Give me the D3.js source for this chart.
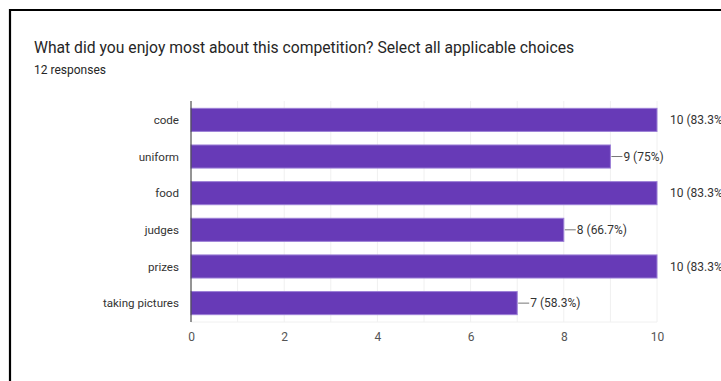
<!DOCTYPE html>
<html>
<head>
<meta charset="utf-8">
<script src="https://cdn.jsdelivr.net/npm/d3@7"></script>
<style>
	body { margin: 0; background: #fff; }
	text { font-family: Roboto, "Noto Sans", sans-serif; }
</style>
</head>
<body>
<div class="chart"></div>
<script>
var title = "What did you enjoy most about this competition? Select all applicable choices";
var subtitle = "12 responses";
var categories = ["code", "uniform", "food", "judges", "prizes", "taking pictures"];
var counts = [10, 9, 10, 8, 10, 7];
var percents = ["83.3%", "75%", "83.3%", "66.7%", "83.3%", "58.3%"];
var xTicks = [0, 2, 4, 6, 8, 10];
var gridTicks = [0, 1, 2, 3, 4, 5, 6, 7, 8, 9, 10];

var width = 721, height = 381;
var plot = {left: 191, right: 657, top: 101, bottom: 322};

var svg = d3.select(".chart").append("svg")
	.attr("width", width)
	.attr("height", height);

svg.append("rect")
	.attr("width", width)
	.attr("height", height)
	.attr("fill", "#fff");

//frame of the screenshot (only top and left edge visible)
svg.append("path")
	.attr("d", "M10," + height + "V10H" + width)
	.attr("fill", "none")
	.attr("stroke", "#000")
	.attr("stroke-width", 2.2);

svg.append("text")
	.attr("x", 34)
	.attr("y", 53)
	.attr("font-size", 15.7)
	.attr("fill", "#262626")
	.text(title);

svg.append("text")
	.attr("x", 34)
	.attr("y", 74)
	.attr("font-size", 12)
	.attr("fill", "#262626")
	.text(subtitle);

var x = d3.scaleLinear()
	.domain([0, 10])
	.range([plot.left, plot.right]);

var y = d3.scaleBand()
	.domain(categories)
	.range([plot.top, plot.bottom])
	.paddingInner(0.37)
	.paddingOuter(0.2);

//light grid
svg.append("g").selectAll("line")
	.data(gridTicks)
	.enter().append("line")
	.attr("x1", function(d){ return x(d) })
	.attr("x2", function(d){ return x(d) })
	.attr("y1", plot.top)
	.attr("y2", plot.bottom)
	.attr("stroke", "#f0f0f0")
	.attr("stroke-width", 1);

svg.append("line")
	.attr("x1", plot.left)
	.attr("x2", plot.right)
	.attr("y1", plot.bottom)
	.attr("y2", plot.bottom)
	.attr("stroke", "#f0f0f0");

var rows = categories.map(function(c, i) {
	return {cat: c, n: counts[i], pct: percents[i]};
});

svg.append("g").selectAll("rect")
	.data(rows)
	.enter().append("rect")
	.attr("x", x(0))
	.attr("y", function(d){ return y(d.cat) })
	.attr("width", function(d){ return x(d.n) - x(0) })
	.attr("height", y.bandwidth())
	.attr("fill", "#673ab7")
	.attr("stroke", "#9c7fd6")
	.attr("stroke-width", 1);

//leader lines for bars that do not reach the end
var maxN = d3.max(counts);
svg.append("g").selectAll("line")
	.data(rows.filter(function(d){ return d.n < maxN }))
	.enter().append("line")
	.attr("x1", function(d){ return x(d.n) + 1 })
	.attr("x2", function(d){ return x(d.n) + 12 })
	.attr("y1", function(d){ return y(d.cat) + y.bandwidth()/2 })
	.attr("y2", function(d){ return y(d.cat) + y.bandwidth()/2 })
	.attr("stroke", "#777")
	.attr("stroke-width", 1);

svg.append("g").selectAll("text")
	.data(rows)
	.enter().append("text")
	.attr("x", function(d){ return x(d.n) + 13 })
	.attr("y", function(d){ return y(d.cat) + y.bandwidth()/2 })
	.attr("dy", "0.35em")
	.attr("font-size", 12)
	.attr("fill", "#333")
	.text(function(d){ return d.n + " (" + d.pct + ")" });

//category labels
svg.append("g").selectAll("text")
	.data(categories)
	.enter().append("text")
	.attr("x", plot.left - 12)
	.attr("y", function(d){ return y(d) + y.bandwidth()/2 })
	.attr("dy", "0.35em")
	.attr("text-anchor", "end")
	.attr("font-size", 11.6)
	.attr("fill", "#333")
	.text(function(d){ return d });

//baseline axis
svg.append("line")
	.attr("x1", plot.left)
	.attr("x2", plot.left)
	.attr("y1", plot.top)
	.attr("y2", plot.bottom)
	.attr("stroke", "#333")
	.attr("stroke-width", 1);

var axis = d3.axisBottom(x).tickValues(xTicks).tickSize(0).tickPadding(10);
var gx = svg.append("g")
	.attr("transform", "translate(0," + plot.bottom + ")")
	.call(axis);
gx.select(".domain").remove();
gx.selectAll("text")
	.attr("font-size", 12)
	.attr("font-family", "Roboto, sans-serif")
	.attr("fill", "#555");
</script>
</body>
</html>
